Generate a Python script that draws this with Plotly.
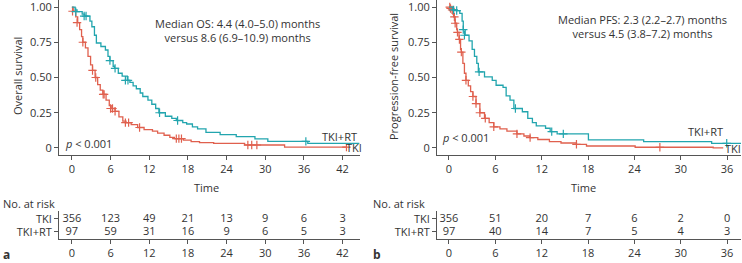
import plotly.graph_objects as go

# --------------------------------------------------
# Data
# --------------------------------------------------

# Panel a: overall survival (Kaplan-Meier steps)
os_tki_time = [0, 0.2, 0.6, 0.9, 1.2, 1.5, 1.7, 2.1, 2.5, 2.9, 3.2, 3.6, 4.0, 4.4, 4.8,
               5.3, 5.8, 6.1, 6.7, 7.3, 7.9, 8.4, 9.2, 10.2, 11.2, 12.5, 13.3, 14.3,
               15.2, 15.9, 17.3, 18.5, 19.8, 22.0, 26.8, 33.0, 42.6]
os_tki_surv = [1.0, 0.97, 0.93, 0.89, 0.84, 0.79, 0.75, 0.71, 0.65, 0.59, 0.55, 0.50,
               0.45, 0.41, 0.38, 0.34, 0.30, 0.28, 0.26, 0.22, 0.19, 0.18, 0.165, 0.145,
               0.13, 0.12, 0.105, 0.09, 0.075, 0.066, 0.055, 0.045, 0.038, 0.033, 0.021,
               0.006, 0.006]
os_tki_cens_t = [0.1, 0.8, 1.7, 3.2, 3.7, 4.85, 5.0, 6.0, 6.3, 6.7, 8.3, 8.8, 10.5,
                 16.2, 16.6, 17.0, 27.3, 27.9, 28.7, 42.6]
os_tki_cens_s = [0.97, 0.89, 0.75, 0.55, 0.50, 0.38, 0.38, 0.28, 0.28, 0.26, 0.18, 0.18,
                 0.145, 0.066, 0.066, 0.066, 0.021, 0.021, 0.021, 0.006]

os_rt_time = [0, 0.5, 0.8, 1.6, 2.0, 2.8, 3.1, 3.5, 3.8, 4.5, 5.2, 5.6, 5.9, 6.4, 6.6,
              7.2, 7.8, 8.6, 9.0, 9.5, 10.0, 10.6, 11.0, 11.8, 12.4, 13.0, 13.5, 14.5,
              15.5, 16.2, 17.2, 17.8, 18.7, 19.5, 20.8, 23.0, 25.5, 28.4, 30.4, 36.6, 44.6]
os_rt_surv = [1.0, 0.98, 0.967, 0.95, 0.936, 0.90, 0.86, 0.80, 0.745, 0.72, 0.695, 0.65,
              0.62, 0.58, 0.565, 0.53, 0.51, 0.48, 0.465, 0.44, 0.42, 0.39, 0.365, 0.34,
              0.31, 0.28, 0.25, 0.225, 0.21, 0.195, 0.18, 0.17, 0.15, 0.135, 0.11, 0.094,
              0.08, 0.064, 0.047, 0.033, 0.033]
os_rt_cens_t = [0.6, 1.9, 2.2, 5.9, 6.7, 8.3, 8.7, 13.6, 16.4, 36.3]
os_rt_cens_s = [0.967, 0.936, 0.936, 0.62, 0.565, 0.48, 0.48, 0.25, 0.195, 0.047]

# Panel b: progression-free survival
pfs_tki_time = [0, 0.3, 0.5, 0.6, 0.8, 1.0, 1.1, 1.3, 1.5, 1.6, 1.8, 2.0, 2.2, 2.5, 2.8,
                3.1, 3.5, 4.0, 4.6, 5.2, 5.8, 6.6, 7.5, 8.8, 9.7, 10.5, 11.5, 13.0, 14.5,
                16.5, 17.8, 24.1, 34.2, 35.5]
pfs_tki_surv = [1.0, 0.98, 0.95, 0.93, 0.885, 0.84, 0.82, 0.77, 0.70, 0.68, 0.60, 0.53,
                0.48, 0.44, 0.40, 0.365, 0.315, 0.25, 0.21, 0.18, 0.15, 0.135, 0.12, 0.10,
                0.085, 0.073, 0.06, 0.045, 0.035, 0.026, 0.014, 0.005, 0.0, 0.0]
pfs_tki_cens_t = [0.1, 0.2, 0.4, 0.7, 0.8, 1.1, 1.35, 1.6, 2.2, 3.1, 3.5, 4.0, 4.7, 5.8,
                  8.8, 10.5, 16.5, 27.3]
pfs_tki_cens_s = [1.0, 0.99, 0.98, 0.93, 0.885, 0.82, 0.77, 0.68, 0.48, 0.365, 0.315,
                  0.25, 0.21, 0.15, 0.10, 0.073, 0.026, 0.005]

pfs_rt_time = [0, 0.5, 1.0, 1.4, 1.7, 1.85, 2.1, 2.6, 3.0, 3.3, 3.6, 3.8, 4.6, 5.6, 6.1,
               7.0, 7.4, 7.9, 8.4, 9.5, 10.2, 10.8, 11.3, 12.5, 13.1, 14.0, 18.05, 25.2,
               34.0, 38.0]
pfs_rt_surv = [1.0, 0.98, 0.975, 0.955, 0.90, 0.84, 0.80, 0.76, 0.70, 0.65, 0.60, 0.54,
               0.505, 0.48, 0.445, 0.43, 0.37, 0.34, 0.28, 0.257, 0.21, 0.18, 0.156, 0.14,
               0.116, 0.10, 0.057, 0.045, 0.033, 0.033]
pfs_rt_cens_t = [0.6, 1.0, 1.85, 2.0, 3.9, 8.6, 13.3, 14.8, 35.95]
pfs_rt_cens_s = [0.98, 0.975, 0.84, 0.80, 0.54, 0.28, 0.116, 0.10, 0.033]

# Numbers at risk
os_risk_times = [0, 6, 12, 18, 24, 30, 36, 42]
os_risk_tki = [356, 123, 49, 21, 13, 9, 6, 3]
os_risk_rt = [97, 59, 31, 16, 9, 6, 5, 3]

pfs_risk_times = [0, 6, 12, 18, 24, 30, 36]
pfs_risk_tki = [356, 51, 20, 7, 6, 2, 0]
pfs_risk_rt = [97, 40, 14, 7, 5, 4, 3]

groups = ["TKI", "TKI+RT"]

RED = "#E0604E"
TEAL = "#22A5AE"
TXT = "#333333"
AX = "#555555"
FONT = "Open Sans"

W, H = 742, 263


def px_x(a, b):
    return [a / W, b / W]


def px_y(top, bottom):
    return [1 - bottom / H, 1 - top / H]


fig = go.Figure()

# --------------------------------------------------
# Curves
# --------------------------------------------------

panels = [
    ("x", "y", os_tki_time, os_tki_surv, os_tki_cens_t, os_tki_cens_s, RED),
    ("x", "y", os_rt_time, os_rt_surv, os_rt_cens_t, os_rt_cens_s, TEAL),
    ("x3", "y3", pfs_tki_time, pfs_tki_surv, pfs_tki_cens_t, pfs_tki_cens_s, RED),
    ("x3", "y3", pfs_rt_time, pfs_rt_surv, pfs_rt_cens_t, pfs_rt_cens_s, TEAL),
]

for xa, ya, t, s, ct, cs, col in panels:
    fig.add_trace(
        go.Scatter(
            x=t, y=s, xaxis=xa, yaxis=ya,
            mode="lines",
            line=dict(color=col, width=1.3, shape="hv"),
            showlegend=False,
            hoverinfo="skip",
        )
    )
    fig.add_trace(
        go.Scatter(
            x=ct, y=cs, xaxis=xa, yaxis=ya,
            mode="markers",
            marker=dict(symbol="cross-thin", size=6, line=dict(color=col, width=1.2)),
            showlegend=False,
            hoverinfo="skip",
        )
    )

# --------------------------------------------------
# Risk tables
# --------------------------------------------------

risk = [
    ("x2", "y2", os_risk_times, os_risk_tki, os_risk_rt),
    ("x4", "y4", pfs_risk_times, pfs_risk_tki, pfs_risk_rt),
]

for xa, ya, rt_t, r_tki, r_rt in risk:
    for row, vals in [(1, r_tki), (0, r_rt)]:
        fig.add_trace(
            go.Scatter(
                x=rt_t, y=[row] * len(rt_t), xaxis=xa, yaxis=ya,
                mode="text",
                text=[str(v) for v in vals],
                textposition="middle center",
                textfont=dict(family=FONT, size=11, color=TXT),
                showlegend=False,
                hoverinfo="skip",
                cliponaxis=False,
            )
        )

# --------------------------------------------------
# Axes
# --------------------------------------------------

axis_common = dict(
    showline=True,
    linecolor=AX,
    linewidth=1,
    ticks="outside",
    ticklen=4,
    tickcolor=AX,
    showgrid=False,
    zeroline=False,
    tickfont=dict(family=FONT, size=11, color=TXT),
    ticklabeloverflow="allow",
    fixedrange=True,
)

surv_y = dict(
    axis_common,
    range=[-0.05, 1.05],
    tickvals=[0, 0.25, 0.5, 0.75, 1.0],
    ticktext=["0", "0.25", "0.50", "0.75", "1.00"],
    domain=px_y(0, 155),
)

risk_y = dict(
    axis_common,
    range=[-0.55, 1.6],
    tickvals=[1, 0],
    ticktext=groups,
    domain=px_y(211, 239),
)

fig.update_layout(
    width=W,
    height=H,
    margin=dict(l=0, r=0, t=0, b=0),
    paper_bgcolor="white",
    plot_bgcolor="white",
    font=dict(family=FONT, size=11, color=TXT),
    xaxis=dict(axis_common, range=[-2.0, 44.7], tickvals=os_risk_times,
               domain=px_x(59, 360), anchor="y"),
    yaxis=dict(surv_y, anchor="x"),
    xaxis2=dict(axis_common, range=[-2.0, 44.7], tickvals=os_risk_times,
                domain=px_x(59, 360), anchor="y2"),
    yaxis2=dict(risk_y, anchor="x2"),
    xaxis3=dict(axis_common, range=[-1.55, 37.8], tickvals=pfs_risk_times,
                domain=px_x(437, 741), anchor="y3"),
    yaxis3=dict(surv_y, anchor="x3"),
    xaxis4=dict(axis_common, range=[-1.55, 37.8], tickvals=pfs_risk_times,
                domain=px_x(437, 741), anchor="y4"),
    yaxis4=dict(risk_y, anchor="x4"),
)

# --------------------------------------------------
# Annotations
# --------------------------------------------------


def note(text, x, y, xref="paper", yref="paper", xanchor="center", size=11, angle=0):
    fig.add_annotation(
        text=text, x=x, y=y, xref=xref, yref=yref,
        xanchor=xanchor, yanchor="middle",
        showarrow=False, textangle=angle,
        font=dict(family=FONT, size=size, color=TXT),
    )


# in-plot text, panel a
note("Median OS: 4.4 (4.0–5.0) months<br>versus 8.6 (6.9–10.9) months", 25.7, 0.836, "x", "y")
note("<i>p</i> < 0.001", -1.4, 0.035, "x", "y", xanchor="left")
note("TKI+RT", 41.5, 0.08, "x", "y")
note("TKI", 42.2, 0.0, "x", "y", xanchor="left")

# in-plot text, panel b
note("Median PFS: 2.3 (2.2–2.7) months<br>versus 4.5 (3.8–7.2) months", 25.1, 0.865, "x3", "y3")
note("<i>p</i> < 0.001", -1.1, 0.071, "x3", "y3", xanchor="left")
note("TKI+RT", 33.2, 0.115, "x3", "y3")
note("TKI", 35.5, -0.007, "x3", "y3", xanchor="left")

# axis titles
note("Overall survival", 17 / W, 1 - 76 / H, angle=-90)
note("Progression-free survival", 394 / W, 1 - 77 / H, angle=-90)
note("Time", 207 / W, 1 - 187 / H)
note("Time", 583 / W, 1 - 187 / H)

# risk table headers and panel letters
note("No. at risk", 1 / W, 1 - 203 / H, xanchor="left")
note("No. at risk", 371 / W, 1 - 203 / H, xanchor="left")
note("<b>a</b>", 1 / W, 1 - 254 / H, xanchor="left", size=12)
note("<b>b</b>", 371 / W, 1 - 254 / H, xanchor="left", size=12)

fig.write_html(
    "out.html",
    config={"displayModeBar": False, "staticPlot": True},
    post_script="document.body.style.margin='0';document.body.style.overflow='hidden';",
)
